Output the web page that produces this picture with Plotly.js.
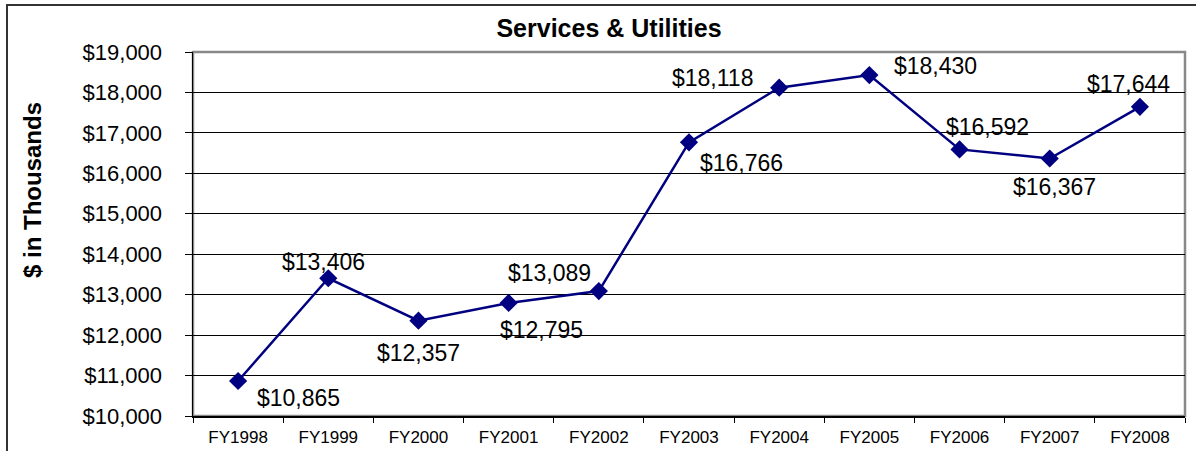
<!DOCTYPE html>
<html>
<head>
<meta charset="utf-8">
<script src="https://cdn.plot.ly/plotly-3.0.1.min.js"></script>
<style>
  html, body { margin: 0; padding: 0; background: #fff; }
  #chart { width: 1196px; height: 451px; }
</style>
</head>
<body>
<div id="chart"></div>
<script>
// Services & Utilities, $ in thousands
const years = ['FY1998', 'FY1999', 'FY2000', 'FY2001', 'FY2002', 'FY2003',
               'FY2004', 'FY2005', 'FY2006', 'FY2007', 'FY2008'];
const amounts = [10865, 13406, 12357, 12795, 13089, 16766, 18118, 18430, 16592, 16367, 17644];
const amountLabels = ['$10,865', '$13,406', '$12,357', '$12,795', '$13,089', '$16,766',
                      '$18,118', '$18,430', '$16,592', '$16,367', '$17,644'];

// label offsets in px (x right, y up), picked by eye from the original
const labelShiftX = [60, -5, 0, 33, -49, 52, -67, 66, 28, 5, -11];
const labelShiftY = [-17, 16, -32, -27, 18, -21, 10, 9, 22, -29, 23];

const FONT = 'Arial, "Liberation Sans", sans-serif';

const trace = {
  x: years,
  y: amounts,
  type: 'scatter',
  mode: 'lines+markers',
  line: { color: '#000080', width: 2.5 },
  marker: { symbol: 'diamond', size: 14, color: '#000080' },
  hoverinfo: 'x+y'
};

const labelNotes = years.map((yr, i) => ({
  x: yr,
  y: amounts[i],
  text: amountLabels[i],
  showarrow: false,
  xshift: labelShiftX[i],
  yshift: labelShiftY[i],
  font: { family: FONT, size: 23, color: '#000' }
}));

const layout = {
  width: 1196,
  height: 451,
  margin: { l: 193, r: 11, t: 52, b: 35 },
  paper_bgcolor: '#fff',
  plot_bgcolor: '#fff',
  showlegend: false,
  font: { family: FONT, color: '#000' },
  title: {
    text: '<b>Services & Utilities</b>',
    font: { family: FONT, size: 25, color: '#000' },
    xref: 'container', x: 609 / 1196, xanchor: 'center',
    yref: 'container', y: 1 - 28 / 451, yanchor: 'middle'
  },
  xaxis: {
    type: 'category',
    range: [-0.5, years.length - 0.5],
    tickson: 'boundaries',
    ticks: 'outside',
    ticklen: 5,
    tickcolor: '#000',
    showgrid: false,
    showline: true,
    linecolor: '#000',
    linewidth: 1.5,
    ticklabelstandoff: 5,
    tickfont: { family: FONT, size: 17, color: '#000' },
    automargin: false,
    fixedrange: true
  },
  yaxis: {
    range: [10000, 19000],
    dtick: 1000,
    tickformat: '$,.0f',
    ticks: 'outside',
    ticklen: 7,
    tickcolor: '#000',
    showgrid: true,
    gridcolor: '#000',
    gridwidth: 1,
    showline: true,
    linecolor: '#000',
    linewidth: 1.5,
    zeroline: false,
    ticklabelstandoff: 18,
    tickfont: { family: FONT, size: 22, color: '#000' },
    automargin: false,
    fixedrange: true
  },
  shapes: [
    // plot area frame (grey top/right edges)
    {
      type: 'rect', xref: 'paper', yref: 'paper',
      x0: 0, x1: 1, y0: 0, y1: 1,
      line: { color: '#888', width: 2.5 },
      layer: 'below'
    },
    // outer chart border, right and bottom fall off the page
    {
      type: 'rect', xref: 'paper', yref: 'paper',
      x0: (7 - 193) / 992, x1: 1.2,
      y0: -0.5, y1: (416 - 5) / 364,
      line: { color: '#333', width: 2 },
      layer: 'below'
    }
  ],
  annotations: labelNotes.concat([{
    text: '<b>$ in Thousands</b>',
    textangle: -90,
    xref: 'paper', yref: 'paper',
    x: (32 - 193) / 992, y: (416 - 190) / 364,
    xanchor: 'center', yanchor: 'middle',
    showarrow: false,
    font: { family: FONT, size: 24, color: '#000' }
  }])
};

Plotly.newPlot('chart', [trace], layout, { displayModeBar: false, staticPlot: true });
</script>
</body>
</html>
